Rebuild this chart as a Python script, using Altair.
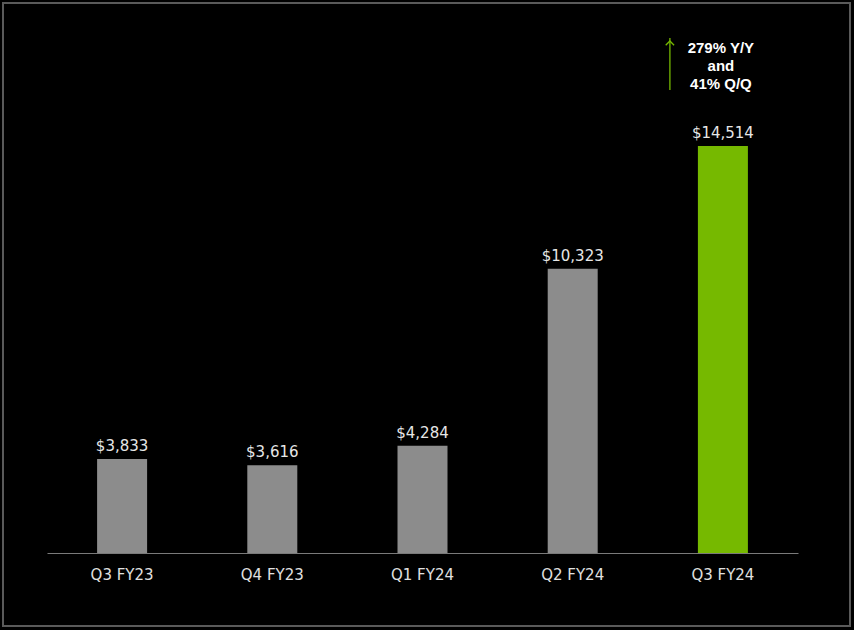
import altair as alt
import pandas as pd

quarters = ["Q3 FY23", "Q4 FY23", "Q1 FY24", "Q2 FY24", "Q3 FY24"]
revenue = [3833, 3616, 4284, 10323, 14514]
bar_colors = ["#8c8c8c", "#8c8c8c", "#8c8c8c", "#8c8c8c", "#76b900"]
value_labels = ["$3,833", "$3,616", "$4,284", "$10,323", "$14,514"]
note_lines = ["279% Y/Y", "and", "41% Q/Q"]

df = pd.DataFrame({"q": quarters, "v": revenue, "c": bar_colors, "lab": value_labels})

FONT = "DejaVu Sans"
W, H = 751, 533
BASE = 625

x = alt.X("q:N", sort=quarters, scale=alt.Scale(paddingInner=0, paddingOuter=0),
          axis=alt.Axis(title=None, labelAngle=0, labelColor="#e0e0e0", labelFont=FONT,
                        labelFontSize=15, labelPadding=14, ticks=False, domain=True,
                        domainColor="#7a7a7a", domainWidth=1.2, grid=False))
y = alt.Y("v:Q", scale=alt.Scale(domain=[BASE, 18816], zero=False, nice=False), axis=None)

bars = alt.Chart(df).mark_bar(size=50).encode(x=x, y=y, y2=alt.datum(BASE),
                                              color=alt.Color("c:N", scale=None))
labels = alt.Chart(df).mark_text(dy=-5, baseline="bottom", font=FONT, fontSize=15,
                                 color="#e6e6e6").encode(x=x, y=y, text="lab:N")

note_df = pd.DataFrame({"q": ["Q3 FY24"] * 3, "t": note_lines, "py": [28, 46, 64]})
note = alt.Chart(note_df).mark_text(font="Liberation Sans", fontSize=15, fontWeight="bold",
                                    color="white", baseline="middle", dx=-2).encode(
    x=alt.X("q:N", sort=quarters), y=alt.Y("py:Q", scale=None), text="t:N")

arrow_df = pd.DataFrame({"q": ["Q3 FY24"]})
arrow = alt.Chart(arrow_df).mark_rule(color="#76b900", strokeWidth=1.3, xOffset=-53).encode(
    x=alt.X("q:N", sort=quarters), y=alt.value(18), y2=alt.value(70))
head = alt.Chart(arrow_df).mark_point(shape="M -1 1 L 0 0 L 1 1", filled=False, size=70,
                                      color="#76b900", strokeWidth=1.3, xOffset=-53,
                                      yOffset=3, opacity=1).encode(
    x=alt.X("q:N", sort=quarters), y=alt.value(18))

frame = alt.Chart(arrow_df).mark_rect(fill=None, stroke="#5a5a5a", strokeWidth=2).encode(
    x=alt.value(-44), x2=alt.value(803), y=alt.value(-17), y2=alt.value(606))

chart = alt.layer(frame, bars, labels, arrow, head, note).properties(
    width=W, height=H,
    autosize=alt.AutoSizeParams(type="none"),
    padding={"left": 47, "top": 20, "right": 56, "bottom": 77},
    background="#000000",
).configure_view(stroke=None)

chart.save("out.html", embed_options={"renderer": "svg", "actions": False})
